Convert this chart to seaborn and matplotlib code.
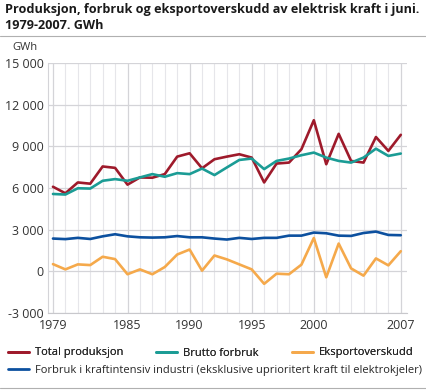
import matplotlib
matplotlib.use('Agg')
import matplotlib.pyplot as plt
import pandas as pd
import seaborn as sns

# Data (GWh, June values)
years = list(range(1979, 2008))
total_produksjon = [6090, 5620, 6400, 6310, 7550, 7450, 6240, 6760, 6740, 7000,
                    8260, 8500, 7420, 8070, 8260, 8430, 8190, 6400, 7760, 7830,
                    8790, 10880, 7710, 9900, 7950, 7830, 9670, 8670, 9830]
brutto_forbruk = [5570, 5530, 5980, 5960, 6520, 6640, 6520, 6760, 7000, 6810,
                  7070, 7000, 7400, 6930, 7480, 8020, 8120, 7360, 7950, 8120,
                  8360, 8550, 8190, 7950, 7830, 8190, 8830, 8310, 8480]
eksportoverskudd = [520, 140, 500, 450, 1050, 880, -210, 140, -210, 310,
                    1210, 1570, 50, 1140, 860, 500, 140, -900, -170, -210,
                    480, 2400, -430, 2000, 210, -310, 930, 430, 1450]
industri = [2360, 2320, 2410, 2330, 2520, 2670, 2520, 2450, 2430, 2450,
            2540, 2450, 2450, 2360, 2290, 2410, 2330, 2410, 2410, 2570,
            2570, 2790, 2740, 2570, 2550, 2760, 2860, 2620, 2600]

series_names = ['Total produksjon', 'Brutto forbruk', 'Eksportoverskudd',
                'Forbruk i kraftintensiv industri (eksklusive uprioritert kraft til elektrokjeler)']
colors = ['#9e1a2b', '#1b9c95', '#f5a94b', '#0c509f']
x_ticks = [1979, 1985, 1990, 1995, 2000, 2007]
y_ticks = [-3000, 0, 3000, 6000, 9000, 12000, 15000]

df = pd.DataFrame({'year': years, series_names[0]: total_produksjon,
                   series_names[1]: brutto_forbruk, series_names[2]: eksportoverskudd,
                   series_names[3]: industri})
long_df = df.melt(id_vars='year', var_name='serie', value_name='GWh')

sns.set_style('white')
plt.rcParams['font.family'] = ['Open Sans', 'DejaVu Sans']

fig = plt.figure(figsize=(4.26, 3.9), dpi=100)
ax = fig.add_axes([48 / 426, 1 - 313 / 390, (407 - 48) / 426, (313 - 63) / 390])

sns.lineplot(data=long_df, x='year', y='GWh', hue='serie', hue_order=series_names,
             palette=colors, linewidth=1.9, ax=ax, legend=False)

ax.set_xlim(1978.6, 2007.5)
ax.set_ylim(-3000, 15000)
ax.set_xticks(x_ticks)
ax.set_xticks(years, minor=True)
ax.set_yticks(y_ticks)
ax.set_yticklabels([f'{v:,}'.replace(',', ' ') for v in y_ticks])
ax.set_xlabel('')
ax.set_ylabel('')
ax.tick_params(axis='both', labelsize=9, colors='#333333', length=0, pad=3)
ax.tick_params(axis='x', which='major', pad=4)
ax.grid(True, which='major', color='#d4d4d8', linewidth=0.9)
ax.grid(True, which='minor', axis='x', color='#e6e6ea', linewidth=0.8)
ax.set_axisbelow(True)
for side in ['top', 'right']:
    ax.spines[side].set_visible(False)
ax.spines['left'].set_color('#d4d4d8')
ax.spines['bottom'].set_color('#c8c8cc')

# Title and unit
fig.text(5 / 426, 1 - 3 / 390, 'Produksjon, forbruk og eksportoverskudd av elektrisk kraft i juni.\n1979-2007. GWh',
         ha='left', va='top', fontsize=9.1, fontweight='bold', color='#1a1a1a', linespacing=1.3)
fig.add_artist(plt.Line2D([0, 1], [1 - 36 / 390, 1 - 36 / 390], color='#b0b0b0', linewidth=0.8))
fig.text(12 / 426, 1 - 48 / 390, 'GWh', ha='left', va='center', fontsize=8, color='#333333')

# Legend below
handles = [plt.Line2D([], [], color=c, linewidth=2) for c in colors]
leg1 = fig.legend(handles[:3], series_names[:3], loc='center left', bbox_to_anchor=(8 / 426, 1 - 353 / 390),
                  ncol=3, frameon=False, fontsize=8, handlelength=1.9, handletextpad=0.5,
                  columnspacing=3.0, borderaxespad=0, borderpad=0)
fig.legend(handles[3:], series_names[3:], loc='center left', bbox_to_anchor=(8 / 426, 1 - 370 / 390),
           frameon=False, fontsize=8, handlelength=1.9, handletextpad=0.5, borderaxespad=0, borderpad=0)
fig.add_artist(leg1)
fig.add_artist(plt.Line2D([0, 1], [1 - 388 / 390, 1 - 388 / 390], color='#b0b0b0', linewidth=0.8))

fig.savefig('out.png', dpi=100)
